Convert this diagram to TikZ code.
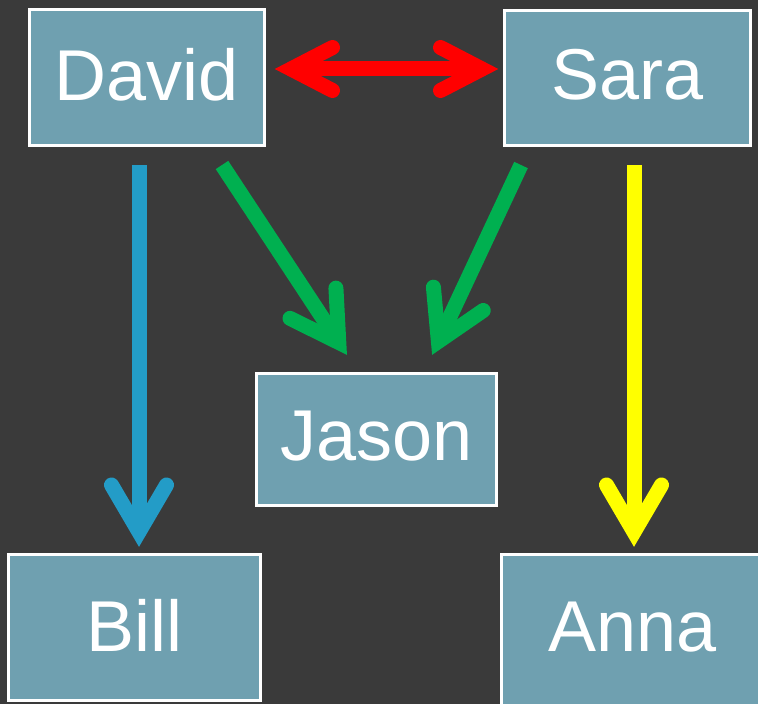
\documentclass[tikz,border=0pt]{standalone}
\usepackage{fontspec}
\setmainfont{Liberation Sans}
\usetikzlibrary{arrows.meta,calc}
\definecolor{bg}{RGB}{58,58,58}
\definecolor{boxfill}{RGB}{111,160,176}
\definecolor{arrblue}{RGB}{35,156,199}
\definecolor{arrgreen}{RGB}{0,176,80}
\definecolor{arrred}{RGB}{255,0,0}
\definecolor{arryellow}{RGB}{255,255,0}
\pgfdeclarearrow{
  name = PPTOpen,
  parameters = {\the\pgfarrowlength,\the\pgfarrowwidth},
  setup code = {
    \pgfarrowssettipend{0pt}
    \pgfarrowssetlineend{-3bp}
    \pgfarrowssetbackend{-\pgfarrowlength}
    \pgfarrowssavethe\pgfarrowlength
    \pgfarrowssavethe\pgfarrowwidth
  },
  drawing code = {
    \pgfsetroundcap
    \pgfsetmiterjoin
    \pgfpathmoveto{\pgfqpoint{-\pgfarrowlength}{.5\pgfarrowwidth}}
    \pgfpathlineto{\pgfqpoint{0pt}{0pt}}
    \pgfpathlineto{\pgfqpoint{-\pgfarrowlength}{-.5\pgfarrowwidth}}
    \pgfusepathqstroke
  },
  defaults = {length = 47bp, width = 55bp}
}
\begin{document}
\begin{tikzpicture}[x=1bp,y=-1bp,
  person/.style={draw=white, line width=3bp, fill=boxfill, text=white,
    font=\fontsize{72bp}{80bp}\selectfont, inner sep=0pt, outer sep=0pt, text depth=7bp},
  arr/.style={line width=15bp, -{PPTOpen[length=47bp,width=55bp]}},
  dblarr/.style={line width=15bp, {PPTOpen[length=41.5bp,width=43bp]}-{PPTOpen[length=41.5bp,width=43bp]}}
]
\useasboundingbox (0,0) rectangle (758,704);
\fill[bg] (0,0) rectangle (758,704);
\clip (0,0) rectangle (758,704);

\node[person, minimum width=235bp, minimum height=136bp] (David) at (147,77.5) {David};
\node[person, minimum width=246bp, minimum height=135bp] (Sara) at (627.5,78) {Sara};
\node[person, minimum width=240bp, minimum height=132bp] (Jason) at (376.5,439.5) {Jason};
\node[person, minimum width=252bp, minimum height=146bp, text depth=4bp] (Bill) at (134.5,627.5) {Bill};
\node[person, minimum width=262bp, minimum height=164bp, text depth=19bp] (Anna) at (632.5,636.5) {Anna};

\draw[dblarr, arrred] ($(David.east)+(26.5,-8.5)$) -- ($(Sara.west)+(-22.5,-9)$);
\draw[arr, arrblue] ($(David.south)+(-8,19.5)$) -- ($(David.south |- Bill.north)+(-8,-22.5)$);
\draw[arr, arryellow] ($(Sara.south)+(6.5,19.5)$) -- ($(Sara.south |- Anna.north)+(6.5,-22.5)$);
\draw[arr, arrgreen] ($(David.south)+(75,19.5)$) -- ($(Jason.north)+(-37.7,-31)$);
\draw[arr, arrgreen] ($(Sara.south)+(-106.5,19.5)$) -- ($(Jason.north)+(61.9,-32.1)$);
\end{tikzpicture}
\end{document}
